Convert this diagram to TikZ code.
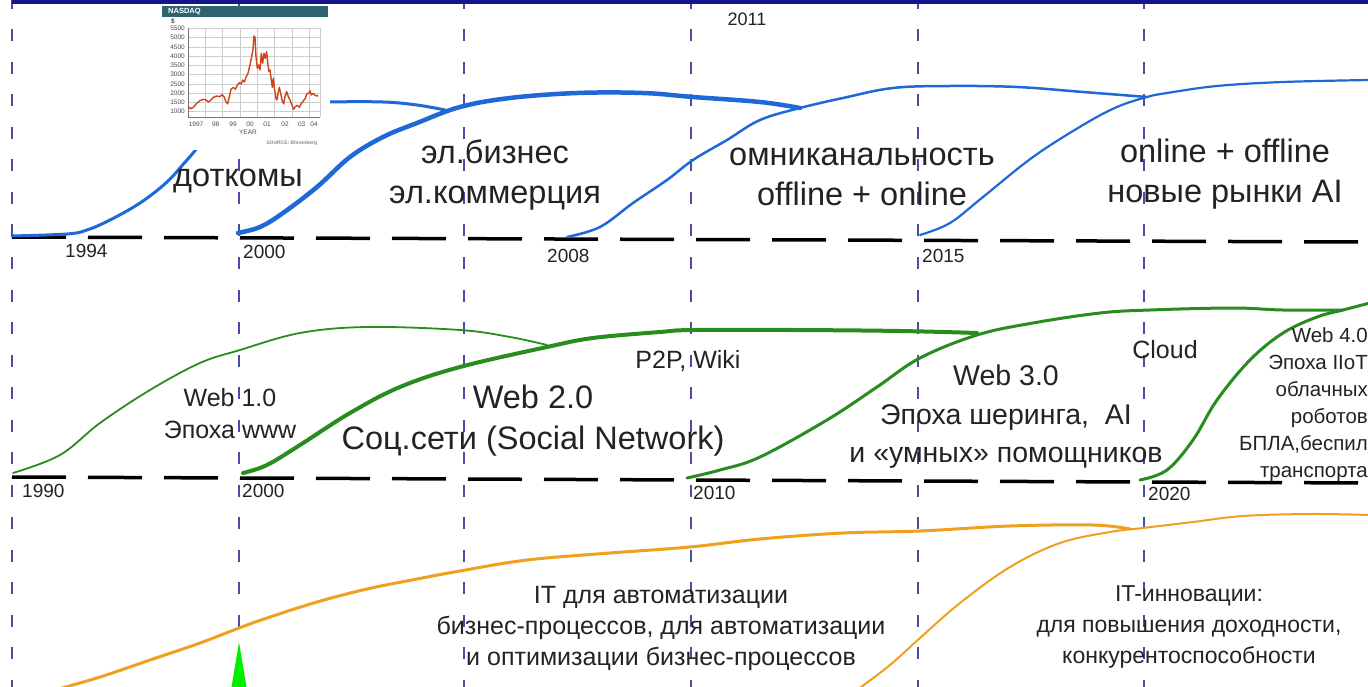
\documentclass[tikz,border=0pt]{standalone}
\usepackage{fontspec}
\setmainfont{Liberation Sans}
\definecolor{curveblue}{RGB}{30,105,215}
\definecolor{curvegreen}{RGB}{40,140,30}
\definecolor{curveorange}{RGB}{240,160,30}
\definecolor{gridviolet}{RGB}{75,75,170}
\definecolor{topnavy}{RGB}{20,20,140}
\definecolor{textgray}{RGB}{35,35,35}
\definecolor{nasdaqteal}{RGB}{47,99,112}
\definecolor{nasdaqred}{RGB}{205,70,25}
\definecolor{brightgreen}{RGB}{0,240,0}
\tikzset{
	vline/.style={draw=gridviolet, line width=2pt, dash pattern=on 12pt off 20.5pt},
	hline/.style={draw=black, line width=3.5pt, dash pattern=on 54pt off 22pt},
	yearlbl/.style={text=textgray, font=\fontsize{19}{22}\selectfont, inner sep=0pt, anchor=west},
	bigtxt/.style={text=textgray, align=center, inner sep=0pt, font=\fontsize{32.5}{40}\selectfont},
	midtxt/.style={text=textgray, align=center, inner sep=0pt, font=\fontsize{25}{32}\selectfont},
	smalltxt/.style={text=textgray, align=center, inner sep=0pt, font=\fontsize{23}{31}\selectfont},
	inlbl/.style={text=black!70, inner sep=0pt, font=\fontsize{6.5}{7}\selectfont},
	bluecurve/.style={draw=curveblue, line cap=round},
	greencurve/.style={draw=curvegreen, line cap=round},
	orangecurve/.style={draw=curveorange, line cap=round}
}
\begin{document}
\begin{tikzpicture}[x=1pt, y=-1pt]
	\useasboundingbox (0,0) rectangle (1368,687);
	\clip (0,0) rectangle (1368,687);
	\fill[white] (0,0) rectangle (1368,687);

	\draw[vline] (12,-3) -- (12,690);
	\draw[vline] (239,-3) -- (239,690);
	\draw[vline] (464,-3) -- (464,690);
	\draw[vline] (691,-3) -- (691,690);
	\draw[vline] (918,-3) -- (918,690);
	\draw[vline] (1144,-3) -- (1144,690);
	\draw[topnavy, line width=4pt] (12,2) -- (1368,2);

	\draw[hline] (12,237) -- (1368,242);
	\draw[hline] (12,477) -- (1368,483);

	\draw[bluecurve, line width=3pt] plot[smooth, tension=0.6] coordinates {(12,236) (67,234) (87,230) (110,220) (140,203) (167,182) (187,160) (210,135) (240,115) (280,104) (330,102) (383,102) (417,105) (445,110)};
	\draw[bluecurve, line width=4.5pt] plot[smooth, tension=0.6] coordinates {(238,233) (260,227) (283,213) (317,187) (350,157) (383,137) (417,123) (460,107) (510,98) (577,93) (643,93) (693,97) (760,102) (800,108)};
	\draw[bluecurve, line width=2.5pt] plot[smooth, tension=0.6] coordinates {(567,237) (600,227) (633,203) (667,180) (693,160) (727,140) (760,120) (800,108) (843,98) (893,88) (950,86) (1017,87) (1083,92) (1147,97)};
	\draw[bluecurve, line width=2.2pt] plot[smooth, tension=0.6] coordinates {(920,235) (950,223) (983,197) (1033,157) (1083,125) (1117,107) (1147,97) (1167,93) (1217,86) (1283,82) (1370,80)};

	\draw[greencurve, line width=1.8pt] plot[smooth, tension=0.6] coordinates {(13,473) (60,455) (100,423) (150,390) (200,363) (240,350) (300,333) (367,327) (460,330) (510,337) (547,345)};
	\draw[greencurve, line width=4pt] plot[smooth, tension=0.6] coordinates {(243,473) (267,465) (300,445) (350,413) (400,387) (460,367) (547,347) (593,338) (660,332) (693,330) (793,330) (900,331) (977,333)};
	\draw[greencurve, line width=3pt] plot[smooth, tension=0.6] coordinates {(687,478) (720,470) (760,457) (827,420) (877,387) (920,358) (977,335) (1033,323) (1100,313) (1150,310) (1233,308) (1283,310) (1343,310)};
	\draw[greencurve, line width=3pt] plot[smooth, tension=0.6] coordinates {(1140,480) (1167,470) (1193,440) (1217,400) (1250,360) (1283,333) (1317,317) (1343,310) (1370,303)};

	\draw[orangecurve, line width=3pt] plot[smooth, tension=0.6] coordinates {(55,690) (100,677) (150,660) (200,643) (239,628) (267,618) (317,602) (367,589) (417,579) (460,571) (527,560) (610,553) (690,547) (760,539) (843,533) (920,531) (1010,526) (1093,525) (1130,529)};
	\draw[orangecurve, line width=2pt] plot[smooth, tension=0.6] coordinates {(857,690) (890,665) (920,638) (960,603) (1010,567) (1060,543) (1110,532) (1143,528) (1193,522) (1243,516) (1310,514) (1370,515)};

	\fill[brightgreen] (239,642) -- (231,690) -- (247,690) -- cycle;

	\fill[white] (158,6) rectangle (330,150);
	\fill[nasdaqteal] (162,6) rectangle (328,17);
	\node[text=white, font=\bfseries\fontsize{7.5}{8}\selectfont, inner sep=0pt, anchor=west] (nasdaq)at(168, 11.7) {NASDAQ};
	\node[inlbl, font=\bfseries\fontsize{6.5}{7}\selectfont] (dollar)at(173, 21) {\$};
	\draw[black!20, line width=0.4pt] (188,28.3) -- (320,28.3) (188,37.6) -- (320,37.6) (188,46.8) -- (320,46.8) (188,56.1) -- (320,56.1) (188,65.4) -- (320,65.4) (188,74.6) -- (320,74.6) (188,83.9) -- (320,83.9) (188,93.2) -- (320,93.2) (188,102.4) -- (320,102.4) (188,111.7) -- (320,111.7);
	\draw[black!20, line width=0.4pt] (205,28.3) -- (205,117) (222,28.3) -- (222,117) (240,28.3) -- (240,117) (257,28.3) -- (257,117) (274,28.3) -- (274,117) (292,28.3) -- (292,117) (309,28.3) -- (309,117) (320,28.3) -- (320,117);
	\draw[black!55, line width=0.7pt] (188,28.3) -- (188,117) -- (320,117);
	\node[inlbl, anchor=east] (v5500)at(185, 28.3) {5500};
	\node[inlbl, anchor=east] (v5000)at(185, 37.6) {5000};
	\node[inlbl, anchor=east] (v4500)at(185, 46.8) {4500};
	\node[inlbl, anchor=east] (v4000)at(185, 56.1) {4000};
	\node[inlbl, anchor=east] (v3500)at(185, 65.4) {3500};
	\node[inlbl, anchor=east] (v3000)at(185, 74.6) {3000};
	\node[inlbl, anchor=east] (v2500)at(185, 83.9) {2500};
	\node[inlbl, anchor=east] (v2000)at(185, 93.2) {2000};
	\node[inlbl, anchor=east] (v1500)at(185, 102.4) {1500};
	\node[inlbl, anchor=east] (v1000)at(185, 111.7) {1000};
	\node[inlbl] (n1997)at(196, 124.5) {1997};
	\node[inlbl] (n1998)at(215.7, 124.5) {98};
	\node[inlbl] (n1999)at(233, 124.5) {99};
	\node[inlbl] (n2000)at(250, 124.5) {00};
	\node[inlbl] (n2001)at(267, 124.5) {01};
	\node[inlbl] (n2002)at(285, 124.5) {02};
	\node[inlbl] (n2003)at(301.7, 124.5) {03};
	\node[inlbl] (n2004)at(314, 124.5) {04};
	\node[inlbl] (yearaxis)at(248, 132) {YEAR};
	\node[inlbl, text=black!45, font=\bfseries\fontsize{5}{6}\selectfont] (source)at(291.7, 143) {SOURCE: Bloomberg};
	\begin{scope}[shift={(150,0)}, x=0.3333pt, y=-0.3333pt]
		\draw[nasdaqred, line width=1.4pt, line join=round] (115,320) -- (122,326) -- (130,322) -- (140,310) -- (150,302) -- (160,298) -- (168,300) -- (175,306) -- (183,300) -- (190,292) -- (200,288) -- (210,290) -- (216,284) -- (222,290) -- (228,305) -- (233,312) -- (238,290) -- (243,268) -- (250,262) -- (256,268) -- (262,255) -- (268,248) -- (274,252) -- (278,240) -- (283,246) -- (288,232) -- (294,220) -- (300,195) -- (305,170) -- (309,148) -- (312,108) -- (315,112) -- (318,170) -- (322,205) -- (326,195) -- (330,210) -- (334,160) -- (338,190) -- (342,160) -- (346,175) -- (350,155) -- (354,195) -- (357,215) -- (360,210) -- (364,240) -- (367,262) -- (370,235) -- (374,270) -- (378,295) -- (381,300) -- (385,275) -- (388,262) -- (392,280) -- (396,300) -- (401,312) -- (405,290) -- (410,275) -- (415,290) -- (420,300) -- (426,315) -- (431,328) -- (436,320) -- (442,316) -- (448,322) -- (453,312) -- (460,303) -- (466,295) -- (470,282) -- (476,280) -- (480,272) -- (484,285) -- (490,280) -- (496,287) -- (505,288);
	\end{scope}

	\node[text=textgray, inner sep=0pt, font=\fontsize{18}{22}\selectfont] (y2011)at(747, 19) {2011};
	\node[yearlbl] (y1994)at(65, 251) {1994};
	\node[yearlbl] (y2000a)at(243, 252) {2000};
	\node[yearlbl] (y2008)at(547, 256) {2008};
	\node[yearlbl] (y2015)at(922, 256) {2015};
	\node[yearlbl] (y1990)at(22, 491) {1990};
	\node[yearlbl] (y2000b)at(242, 491) {2000};
	\node[yearlbl] (y2010)at(693, 493) {2010};
	\node[yearlbl] (y2020)at(1148, 494) {2020};

	\node[bigtxt] (dotcom)at(238, 181) {доткомы};
	\node[bigtxt] (ebiz)at(495, 175) {эл.бизнес\\эл.коммерция};
	\node[bigtxt] (omni)at(862, 177) {омниканальность\\offline + online};
	\node[bigtxt] (onoff)at(1225, 174) {online + offline\\новые рынки AI};

	\node[midtxt] (web1)at(230, 414) {Web 1.0\\Эпоха www};
	\node[bigtxt, font=\fontsize{32.5}{41}\selectfont] (web2)at(533, 421) {Web 2.0\\Соц.сети (Social Network)};
	\node[midtxt] (p2p)at(688, 361) {P2P, Wiki};
	\node[bigtxt, font=\fontsize{28.5}{38.5}\selectfont] (web3)at(1006, 417) {Web 3.0\\Эпоха шеринга,~ AI\\и «умных» помощников};
	\node[midtxt] (cloud)at(1165, 350) {Cloud};
	\node[text=textgray, align=right, inner sep=0pt, anchor=east, font=\fontsize{20.5}{27}\selectfont] (web4)at(1368, 404.5) {Web 4.0\\Эпоха IIoT\\облачных\\роботов\\БПЛА,беспил\\транспорта};

	\node[smalltxt, font=\fontsize{25}{31}\selectfont] (itauto)at(661, 628) {IT для автоматизации\\бизнес-процессов, для автоматизации\\и оптимизации бизнес-процессов};
	\node[smalltxt] (itinno)at(1189, 627) {IT-инновации:\\для повышения доходности,\\конкурентоспособности};
\end{tikzpicture}
\end{document}
